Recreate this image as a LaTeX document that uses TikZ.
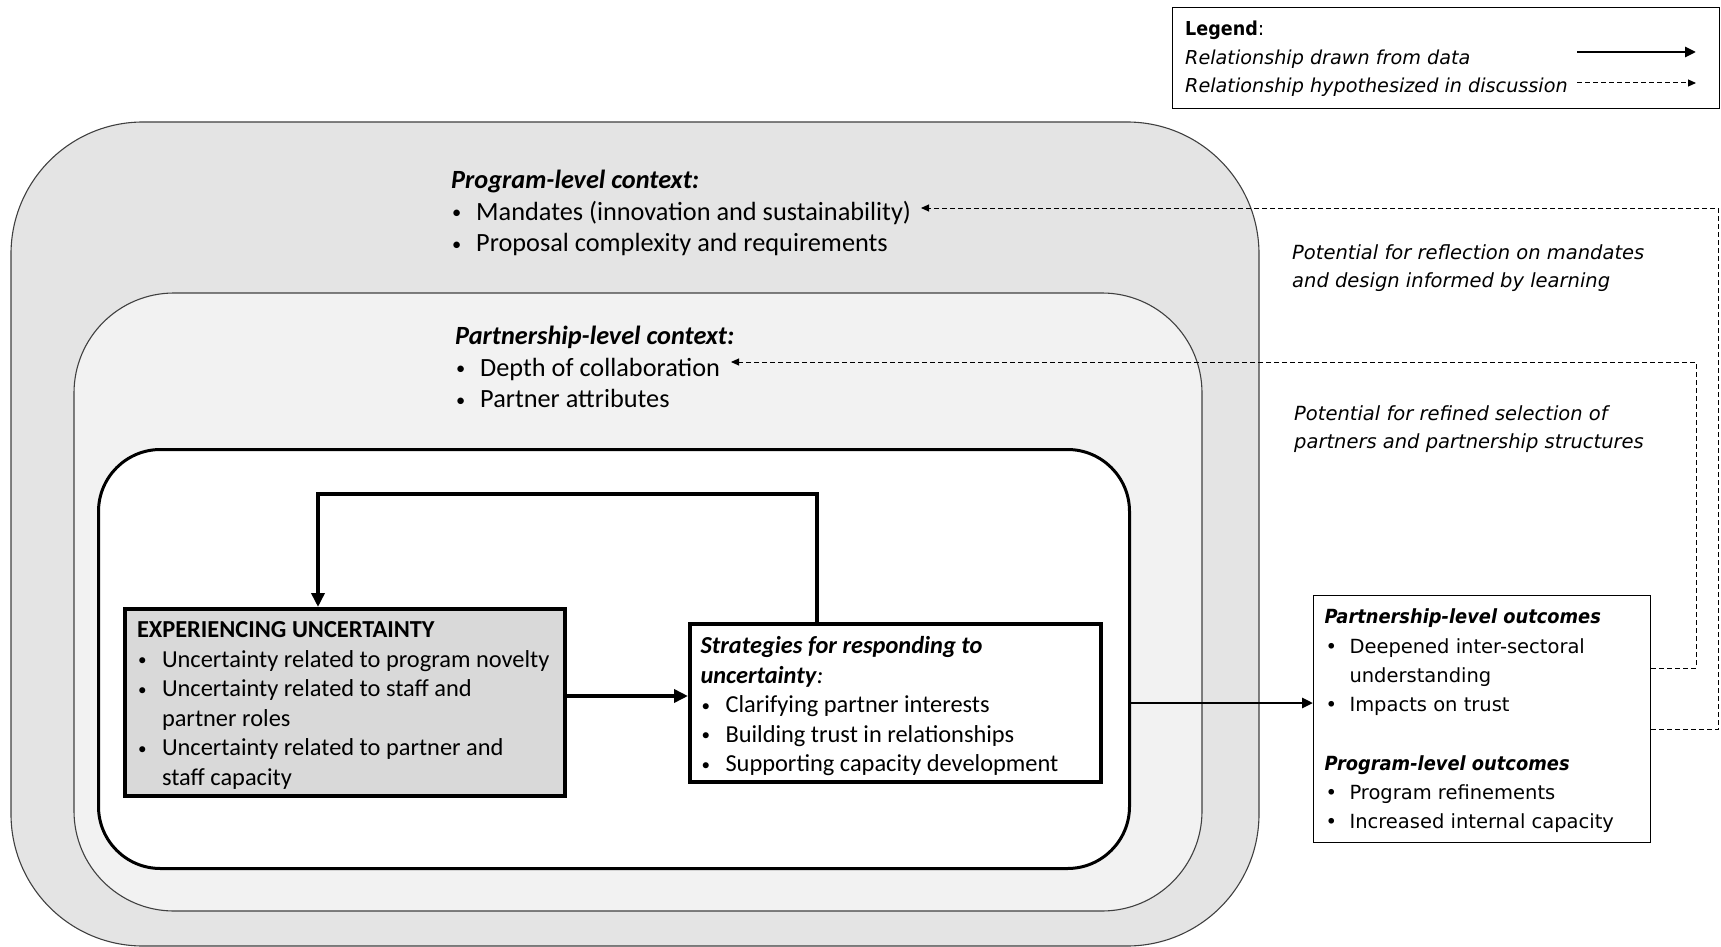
\documentclass[tikz,border=0pt]{standalone}
\usepackage{fontspec}
\setmainfont{Carlito}
\newfontfamily\verdfont{DejaVu Sans}
\usepackage{xcolor}
\usetikzlibrary{arrows.meta,positioning}

\definecolor{progfill}{HTML}{E4E4E4}
\definecolor{partfill}{HTML}{F2F2F2}
\definecolor{expfill}{HTML}{D9D9D9}
\newcommand{\bitem}{\makebox[25pt][l]{\hspace*{1pt}\raisebox{0.06em}{\scalebox{0.7}{\textbullet}}}}
\newcommand{\obitem}{\makebox[25pt][l]{\hspace*{1pt}\textbullet}}
\newcommand{\bcont}{\hspace*{25pt}}
\newcommand{\otitle}[1]{\scalebox{0.915}[1]{\textbf{#1}}}

\begin{document}
\begin{tikzpicture}[
  x=1pt, y=-1pt,
  ctxbox/.style={rectangle, draw=black!75, line width=1.1pt, inner sep=0pt, outer sep=0pt, anchor=north west},
  corebox/.style={rectangle, draw, line width=3pt, inner sep=0pt, outer sep=0pt, anchor=north west, rounded corners=62pt, fill=white},
  stagebox/.style={rectangle, draw, line width=4pt, inner sep=0pt},
  stagetext/.style={anchor=north west, inner sep=0pt, outer sep=0pt, align=left, font=\fontsize{24.4}{29.5}\selectfont},
  outbox/.style={rectangle, draw, line width=1pt, inner sep=0pt},
  outtext/.style={anchor=north west, inner sep=0pt, outer sep=0pt, align=left, font=\verdfont\fontsize{19.5}{29.3}\selectfont},
  ctxtext/.style={anchor=north west, inner sep=0pt, align=left, font=\fontsize{26.3}{31.5}\selectfont},
  notetext/.style={anchor=north west, inner sep=0pt, align=left, font=\verdfont\itshape\fontsize{19.5}{28.5}\selectfont},
  arr/.style={-{Triangle[length=14pt, width=13pt]}, line width=4pt},
  thinarr/.style={-{Triangle[length=11pt, width=10pt]}, line width=2.8pt},
  dasharr/.style={-{Triangle[length=8pt, width=7pt]}, line width=1pt, dash pattern=on 5pt off 3pt}
]
  \useasboundingbox (0,0) rectangle (1721,947);

  % nested contexts
  \node[ctxbox, fill=progfill, rounded corners=132pt, minimum width=1248pt, minimum height=824pt] (progctx) at (11,122) {};
  \node[ctxbox, fill=partfill, rounded corners=100pt, minimum width=1128pt, minimum height=618pt] (partctx) at (74,293) {};
  \node[corebox, minimum width=1031pt, minimum height=419pt] (core) at (98.5,449.5) {};

  \node[ctxtext] (progtxt) at (451,170) {\textbf{\textit{Program-level context:}}\\
    \bitem Mandates (innovation and sustainability)\\
    \bitem Proposal complexity and requirements};
  \node[ctxtext] (parttxt) at (455,326) {\textbf{\textit{Partnership-level context:}}\\
    \bitem Depth of collaboration\\
    \bitem Partner attributes};

  % process
  \node[stagebox, fill=expfill, minimum width=440pt, minimum height=187pt] (exp) at (345,702.5) {};
  \node[stagetext, below right=14.5pt and 14pt of exp.north west] (exptxt) {\textbf{EXPERIENCING UNCERTAINTY}\\
    \bitem Uncertainty related to program novelty\\
    \bitem Uncertainty related to staff and\\
    \bcont partner roles\\
    \bitem Uncertainty related to partner and\\
    \bcont staff capacity};
  \node[stagebox, fill=white, minimum width=411pt, minimum height=158pt, right=121pt of exp] (strat) {};
  \node[stagetext, below right=15pt and 12.5pt of strat.north west] (strattxt) {\textbf{\textit{Strategies for responding to}}\\
    \textbf{\textit{uncertainty}}\textit{:}\\
    \bitem Clarifying partner interests\\
    \bitem Building trust in relationships\\
    \bitem Supporting capacity development};

  \coordinate (loopR) at (817,494);
  \coordinate (loopL) at (318,494);
  \draw[arr] (strat.north -| loopR) -- (loopR) -- (loopL) -- (exp.north -| loopL);
  \draw[arr] ([yshift=6.5pt]exp.east) -- ([yshift=6.5pt]exp.east -| strat.west);

  % outcomes
  \node[outbox, fill=white, minimum width=337pt, minimum height=247pt] (outc) at (1482,719) {};
  \node[outtext, below right=14pt and 11.5pt of outc.north west] (outctxt) {\otitle{\textit{Partnership-level outcomes}}\\
    \obitem Deepened inter-sectoral\\
    \bcont understanding\\
    \obitem Impacts on trust\\[29pt]
    \otitle{\textit{Program-level outcomes}}\\
    \obitem Program refinements\\
    \obitem Increased internal capacity};
  \coordinate (coreout) at (1130,703);
  \draw[thinarr] (coreout) -- (coreout -| outc.west);

  % hypothesized feedback
  \node[notetext] (reflnote) at (1292,244) {Potential for reflection on mandates\\and design informed by learning};
  \node[notetext] (selnote) at (1294,405) {Potential for refined selection of\\partners and partnership structures};
  \coordinate (reflend) at (921,208);
  \coordinate (selend) at (731,362);
  \draw[dasharr] (outc.east |- 0,729) -| (1718.5,208) -- (reflend);
  \draw[dasharr] (outc.east |- 0,668) -| (1696,362) -- (selend);

  % legend
  \node[rectangle, draw, line width=1pt, anchor=north west, minimum width=547pt, minimum height=101pt, inner sep=0pt] (legend) at (1172,7) {};
  \node[notetext, font=\verdfont\fontsize{19.2}{28.5}\selectfont] (legtxt) at (1185,21) {\otitle{Legend}:\\
    \textit{Relationship drawn from data}\\
    \textit{Relationship hypothesized in discussion}};
  \coordinate (solidA) at (1577,52);
  \coordinate (solidB) at (1696,52);
  \coordinate (dashA) at (1577,83);
  \coordinate (dashB) at (1696,83);
  \draw[thinarr] (solidA) -- (solidB);
  \draw[dasharr] (dashA) -- (dashB);
\end{tikzpicture}
\end{document}
